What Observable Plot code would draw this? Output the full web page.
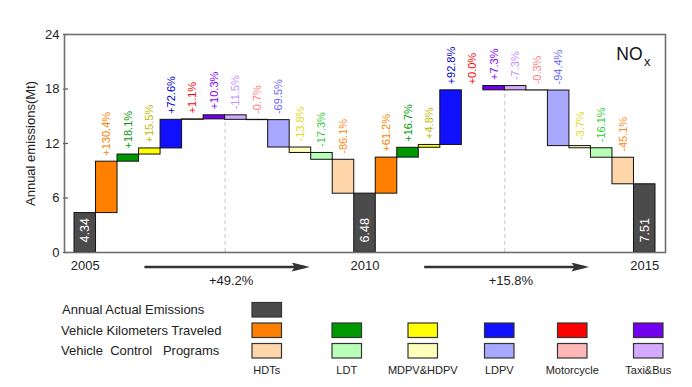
<!DOCTYPE html>
<html><head><meta charset="utf-8">
<script src="https://cdn.jsdelivr.net/npm/d3@7"></script>
<script src="https://cdn.jsdelivr.net/npm/@observablehq/plot@0.6"></script>
<style>
body{margin:0;background:#fff;font-family:"Liberation Sans",Arial,sans-serif;}
svg{display:block}
</style>
</head><body><div id="chart"></div><script>
// ---------- data ----------
const categories = ["HDTs", "LDT", "MDPV&HDPV", "LDPV", "Motorcycle", "Taxi&Bus"];
const years = ["2005", "2010", "2015"];
const actual = [4.34, 6.48, 7.51];                       // Mt
const vkt2005_2010 = [130.4, 18.1, 15.5, 72.6, 1.1, 10.3]; // % of 2005 emissions
const vcp2005_2010 = [-86.1, -17.3, -13.8, -69.5, -0.7, -11.5];
const vkt2010_2015 = [61.2, 16.7, 4.8, 92.8, 0.0, 7.3];    // % of 2010 emissions
const vcp2010_2015 = [-45.1, -16.1, -3.7, -94.4, -0.3, -7.3];
const periodChange = ["+49.2%", "+15.8%"];
const yTicks = [0, 6, 12, 18, 24];
const rowLabels = ["Annual Actual Emissions", "Vehicle Kilometers Traveled", "Vehicle  Control   Programs"];
const pollutant = "NO", pollutantSub = "x";

// ---------- styles ----------
const actualColor = "#4b4b4b";
const vktColors = ["#FF8000", "#009900", "#FFFF00", "#1010FF", "#FF0000", "#7000EE"];
const vcpColors = ["#FFD5AA", "#B8FFB8", "#FFFFBB", "#A8A8FF", "#FFB8B8", "#D4AAFF"];
const vktLabelColors = ["#FF8000", "#009900", "#BBBB00", "#0000CC", "#FF0000", "#7F00FF"];
const vcpLabelColors = ["#FF8C1A", "#33CC33", "#DDDD22", "#6A6AFF", "#FF8080", "#C090FF"];

// ---------- waterfall construction ----------
const periods = [[vkt2005_2010, vcp2005_2010], [vkt2010_2015, vcp2010_2015]];
const bars = [];
const spans = [];
let idx = 0;
actual.forEach((a, k) => {
  bars.push({i: idx++, y1: 0, y2: a, fill: actualColor, kind: "actual", label: a.toFixed(2), year: years[k]});
  if (k < periods.length) {
    const [vkt, vcp] = periods[k];
    const start = idx - 1;
    let level = a;
    vkt.forEach((p, c) => {
      const next = level + a * p / 100;
      bars.push({i: idx++, y1: level, y2: next, fill: vktColors[c], labelColor: vktLabelColors[c], pct: p});
      level = next;
    });
    const mid = idx;
    const midLevel = bars[idx - 1].y1;
    [5, 4, 3, 2, 1, 0].forEach(c => {
      const next = level + a * vcp[c] / 100;
      bars.push({i: idx++, y1: level, y2: next, fill: vcpColors[c], labelColor: vcpLabelColors[c], pct: vcp[c]});
      level = next;
    });
    spans.push({start, end: idx, mid, midLevel, label: periodChange[k]});
  }
});
const n = bars.length;
const fmt = p => (p < 0 ? "-" : "+") + Math.abs(p).toFixed(1) + "%";

const W = 692, H = 296, mL = 64, mR = 27, mT = 34, mB = 44;
const plotW = W - mL - mR;
const pad = 0.465;

const svg = Plot.plot({
  width: W, height: H,
  marginLeft: mL, marginRight: mR, marginTop: mT, marginBottom: mB,
  style: {fontFamily: "Liberation Sans, Arial, sans-serif", fontSize: "13px", color: "#222", background: "white", overflow: "visible"},
  x: {type: "linear", domain: [-pad, n + pad], axis: null},
  y: {domain: [0, 24], ticks: yTicks, tickSize: 0, tickPadding: 5, label: null},
  color: {type: "identity"},
  marks: [
    Plot.ruleX(spans, {x: "mid", y1: 0, y2: "midLevel", stroke: "#c4c4c4", strokeDasharray: "4,3"}),
    Plot.rect(bars, {x1: "i", x2: d => d.i + 1, y1: "y1", y2: "y2", fill: "fill", stroke: "#111", strokeWidth: 1}),
    Plot.text(bars.filter(d => d.pct !== undefined), {
      x: d => d.i + 0.5, y: d => Math.max(d.y1, d.y2), text: d => fmt(d.pct),
      fill: "labelColor", rotate: -90, textAnchor: "start", dy: -6, fontSize: 11
    }),
    Plot.text(bars.filter(d => d.kind === "actual"), {
      x: d => d.i + 0.5, y: 0, text: "label", fill: "white", rotate: -90, textAnchor: "start", dy: -10, fontSize: 12.5
    }),
    Plot.text(bars.filter(d => d.kind === "actual"), {x: d => d.i + 0.5, y: 0, text: "year", dy: 13.5, fontSize: 13, fill: "#222"}),
    Plot.link(spans, {
      x1: d => d.start + 0.25 * (d.end - d.start), x2: d => d.start + 0.823 * (d.end - d.start),
      y1: 0, y2: 0, dy: 14.5, stroke: "#333", strokeWidth: 2.7
    }),
    Plot.text(spans, {x: d => d.start + 0.56 * (d.end - d.start), y: 0, dy: 28.5, text: "label", fontSize: 13, fill: "#222"}),
    Plot.ruleY(yTicks, {stroke: "#555", strokeWidth: 1.2, insetLeft: -1, insetRight: plotW - 4}),
    Plot.frame({stroke: "#707070", strokeWidth: 1.6}),
    Plot.text([pollutant], {frameAnchor: "top-right", textAnchor: "end", lineAnchor: "bottom", dx: -23, dy: 25, fontSize: 17.5, fill: "#111"}),
    Plot.text([pollutantSub], {frameAnchor: "top-right", textAnchor: "start", lineAnchor: "bottom", dx: -21.5, dy: 31, fontSize: 13, fill: "#111"}),
    Plot.text(["Annual emissions(Mt)"], {frameAnchor: "left", textAnchor: "middle", lineAnchor: "middle", dx: -34, rotate: -90, fontSize: 13, fill: "#222"})
  ]
});

// filled arrowheads on the period arrows
const s = d3.select(svg);
s.append("defs").append("marker")
  .attr("id", "ahead").attr("markerUnits", "userSpaceOnUse")
  .attr("viewBox", "0 0 18 9").attr("markerWidth", 18).attr("markerHeight", 9)
  .attr("refX", 13).attr("refY", 4.5).attr("orient", "auto")
  .append("path").attr("d", "M0,0L18,4.5L0,9L3,4.5Z").attr("fill", "#333");
s.selectAll('g[aria-label="link"] path').attr("marker-end", "url(#ahead)");

document.getElementById("chart").appendChild(svg);

// ---------- legend ----------
const boxX = [252, 332, 408, 484.5, 557.5, 633.5];
const rowY = [6.5, 27, 47.5];
const bw = 29.5, bh = 14.5;
const leg = d3.create("svg").attr("width", W).attr("height", 91)
  .style("font-family", "Liberation Sans, Arial, sans-serif");
rowLabels.forEach((t, r) => {
  leg.append("text").attr("x", r === 0 ? 62 : 61).attr("y", rowY[r] + bh / 2).attr("dy", "0.35em")
    .style("white-space", "pre").attr("font-size", 13).attr("fill", "#222").text(t);
});
leg.append("rect").attr("x", boxX[0]).attr("y", rowY[0]).attr("width", bw).attr("height", bh)
  .attr("fill", actualColor).attr("stroke", "#333").attr("stroke-width", 1.2);
categories.forEach((c, j) => {
  leg.append("rect").attr("x", boxX[j]).attr("y", rowY[1]).attr("width", bw).attr("height", bh)
    .attr("fill", vktColors[j]).attr("stroke", "#333").attr("stroke-width", 1.2);
  leg.append("rect").attr("x", boxX[j]).attr("y", rowY[2]).attr("width", bw).attr("height", bh)
    .attr("fill", vcpColors[j]).attr("stroke", "#333").attr("stroke-width", 1.2);
  leg.append("text").attr("x", boxX[j] + bw / 2).attr("y", 74).attr("dy", "0.35em")
    .attr("text-anchor", "middle").attr("font-size", 11).attr("fill", "#222").text(c);
});
document.getElementById("chart").appendChild(leg.node());
</script></body></html>
